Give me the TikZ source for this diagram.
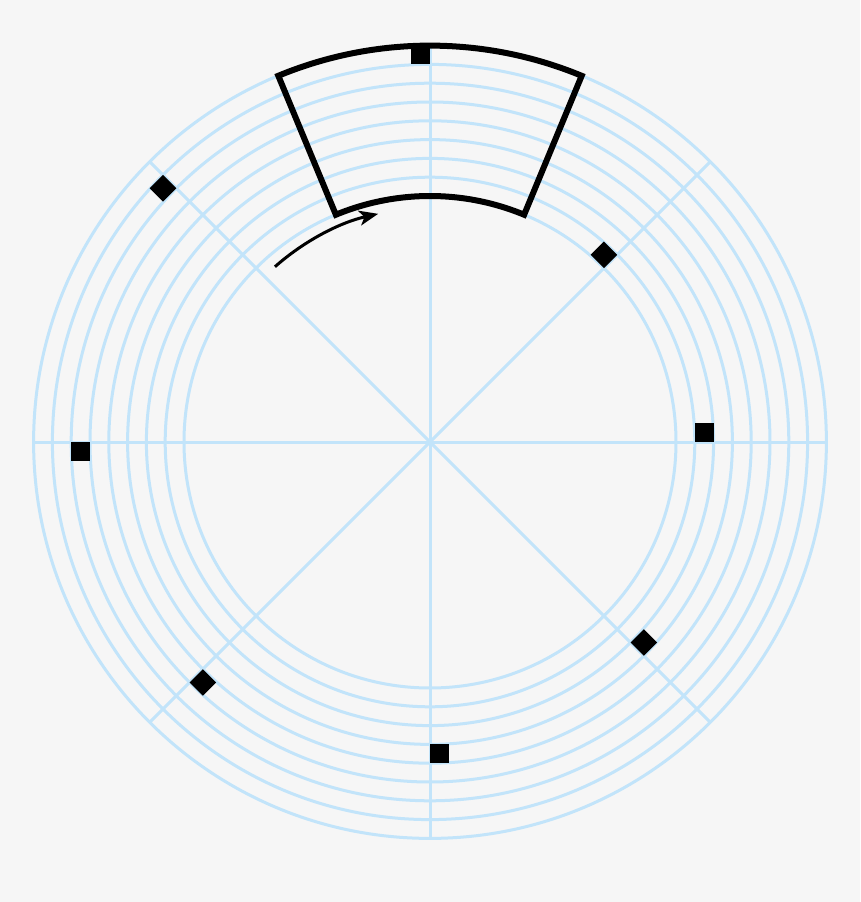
\documentclass[tikz,border=0pt]{standalone}
\usetikzlibrary{arrows.meta}
\definecolor{bg}{RGB}{246,246,246}
\definecolor{grid}{RGB}{194,228,250}
\begin{document}
\begin{tikzpicture}[x=1pt,y=1pt,
  gridline/.style={draw=grid,line width=3pt},
  marker/.style={fill=black},
  sector/.style={draw=black,line width=6pt},
  turn/.style={draw=black,line width=3pt,-{Stealth[length=19pt,width=15pt,inset=5pt]}}]
\fill[bg] (-430,-460) rectangle (430,442);
\useasboundingbox (-430,-460) rectangle (430,442);
\coordinate (c) at (0,0);
% rings
\foreach \k in {0,...,8}{
  \draw[gridline] (c) circle[radius=246+18.8*\k];
}
% spokes
\foreach \a in {0,45,...,315}{
  \draw[gridline] (c) -- (\a:396.4);
}
% markers: angle / band
\foreach \a/\k in {0/1,45/0,90/7,135/6,180/5,225/4,270/3,315/2}{
  \begin{scope}[rotate=\a]
    \fill[marker] ({246+18.8*\k},0) rectangle ({246+18.8*(\k+1)},18.8);
  \end{scope}
}
% sector outline
\draw[sector] (67.5:246) -- (67.5:396.4) arc[start angle=67.5,end angle=112.5,radius=396.4]
  -- (112.5:246) arc[start angle=112.5,end angle=67.5,radius=246] -- cycle;
% rotation arrow
\draw[turn] (131.5:234) arc[start angle=131.5,end angle=102.8,radius=234];
\end{tikzpicture}
\end{document}
